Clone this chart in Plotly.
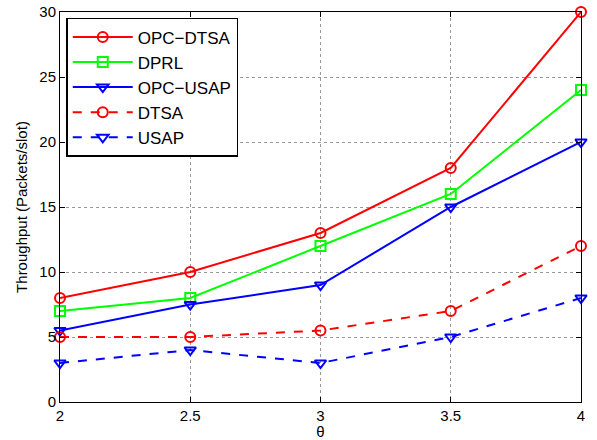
import plotly.graph_objects as go

theta = [2, 2.5, 3, 3.5, 4]
opc_dtsa = [8, 10, 13, 18, 30]
dprl = [7, 8, 12, 16, 24]
opc_usap = [5.5, 7.5, 9, 15, 20]
dtsa = [5, 5, 5.5, 7, 12]
usap = [3, 4, 3, 5, 8]

series = [
    ("OPC\u2212DTSA", opc_dtsa, "#ff0000", "solid", "circle-open"),
    ("DPRL", dprl, "#00ff00", "solid", "square-open"),
    ("OPC\u2212USAP", opc_usap, "#0000ff", "solid", "triangle-down-open"),
    ("DTSA", dtsa, "#ff0000", "dash", "circle-open"),
    ("USAP", usap, "#0000ff", "dash", "triangle-down-open"),
]

fig = go.Figure()
for name, y, c, dash, sym in series:
    fig.add_trace(go.Scatter(
        x=theta, y=y, name=name, mode="lines+markers",
        line=dict(color=c, width=2, dash=dash),
        marker=dict(symbol=sym, size=10, color=c, line=dict(width=2, color=c)),
        cliponaxis=False,
    ))

axis_common = dict(
    showline=True, linecolor="black", linewidth=1, mirror="ticks",
    ticks="inside", ticklen=5, tickcolor="black",
    showgrid=True, gridcolor="#999999", griddash="dot", gridwidth=1,
    zeroline=False, automargin=False,
    tickfont=dict(family="Liberation Sans, Arial", size=15, color="black"),
)

fig.update_layout(
    width=597, height=440,
    margin=dict(l=60, r=16, t=12, b=38),
    paper_bgcolor="white", plot_bgcolor="white",
    font=dict(family="Liberation Sans, Arial", size=15, color="black"),
    xaxis=dict(range=[2, 4], tickvals=[2, 2.5, 3, 3.5, 4], ticktext=["2", "2.5", "3", "3.5", "4"],
               title=dict(text="\u03b8", standoff=0, font=dict(size=15)), **axis_common),
    yaxis=dict(range=[0, 30], tickvals=[0, 5, 10, 15, 20, 25, 30],
               title=dict(text="Throughput (Packets/slot)", standoff=8, font=dict(size=15)), **axis_common),
    legend=dict(x=0.012, y=0.985, xanchor="left", yanchor="top",
                bgcolor="white", bordercolor="black", borderwidth=1.5,
                font=dict(size=17), tracegroupgap=0, itemwidth=60),
    showlegend=True,
)

fig.write_html("out.html")
